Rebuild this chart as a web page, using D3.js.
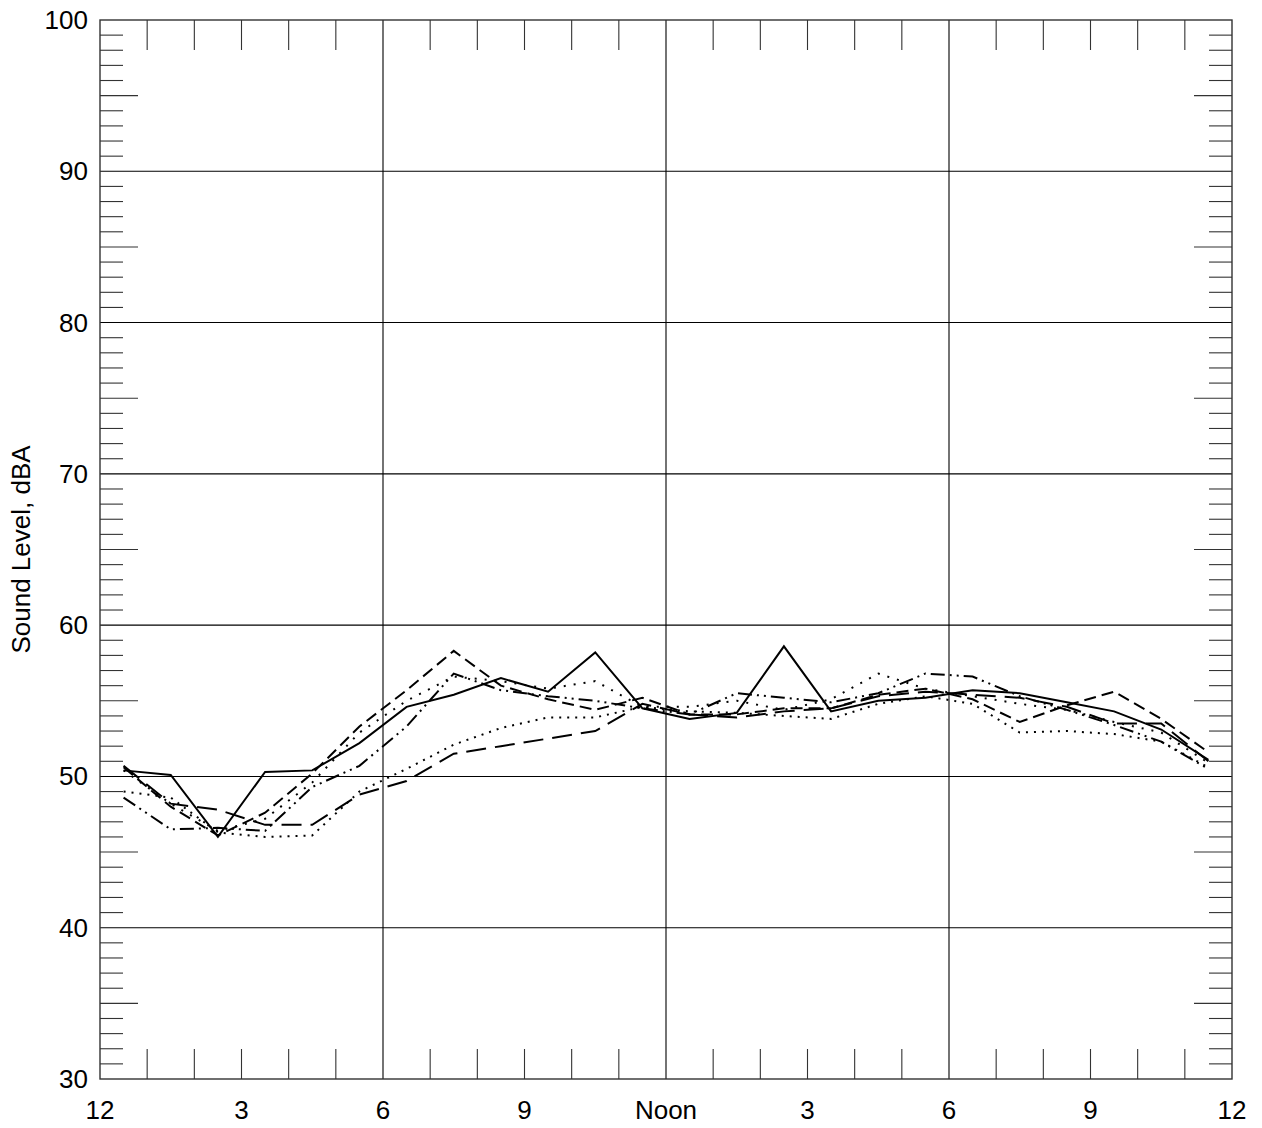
<!DOCTYPE html>
<html>
<head>
<meta charset="utf-8">
<script src="https://cdn.jsdelivr.net/npm/d3@7"></script>
<style>
  html, body { margin: 0; padding: 0; background: #fff; }
  text { font-family: "Liberation Sans", Arial, sans-serif; fill: #000; }
</style>
</head>
<body>
<svg id="chart" width="1262" height="1128"></svg>
<script>
// ---- data ----
const hours = [0.5,1.5,2.5,3.5,4.5,5.5,6.5,7.5,8.5,9.5,10.5,11.5,12.5,13.5,14.5,15.5,16.5,17.5,18.5,19.5,20.5,21.5,22.5,23.5];
const xTickValues = [0, 3, 6, 9, 12, 15, 18, 21, 24];
const xTickLabels = ["12", "3", "6", "9", "Noon", "3", "6", "9", "12"];
const yTickValues = [30, 40, 50, 60, 70, 80, 90, 100];

const solid      = [50.4,50.1,46.0,50.3,50.4,52.2,54.6,55.4,56.5,55.6,58.2,54.5,53.8,54.2,58.6,54.3,55.0,55.2,55.7,55.5,54.9,54.3,53.1,51.1];
const dashed     = [50.6,48.0,46.1,47.6,50.2,53.3,55.7,58.3,56.0,55.1,54.4,55.2,54.1,54.1,54.5,54.5,55.4,55.8,55.1,53.6,54.7,55.6,53.8,51.6];
const longDash   = [50.7,48.2,47.8,46.8,46.8,48.8,49.7,51.5,52.0,52.5,53.0,54.8,54.1,53.9,54.3,54.5,55.3,55.6,55.4,55.2,54.6,53.5,53.5,51.0];
const dottedHigh = [50.4,48.2,46.4,47.2,49.6,52.9,55.0,56.6,56.3,55.8,56.3,54.6,54.6,55.0,54.4,55.1,56.8,55.8,55.3,54.8,54.4,53.6,52.9,50.9];
const dottedLow  = [49.0,48.6,46.3,46.0,46.1,49.0,50.5,52.1,53.2,53.9,53.9,54.6,54.3,54.2,54.0,53.8,54.8,55.3,54.8,52.9,53.0,52.8,52.3,50.6];
const dashDotDot = [48.6,46.5,46.6,46.4,49.3,50.7,53.3,56.8,55.7,55.3,55.0,54.5,54.1,55.5,55.2,54.9,55.5,56.8,56.6,55.3,54.4,53.4,52.3,50.5];

const series = [
  { values: solid,      dash: null },
  { values: dashed,     dash: "12,6" },
  { values: longDash,   dash: "20,9" },
  { values: dottedHigh, dash: "2,8" },
  { values: dottedLow,  dash: "2,6" },
  { values: dashDotDot, dash: "14,5,2,5,2,5" }
];

// ---- layout ----
const mLeft = 100, mRight = 1232, mTop = 20, mBottom = 1079;
const svg = d3.select("#chart");
const x = d3.scaleLinear().domain([0, 24]).range([mLeft, mRight]);
const y = d3.scaleLinear().domain([30, 100]).range([mBottom, mTop]);

// grid lines
const g = svg.append("g");
g.selectAll(".hgrid").data(yTickValues.filter(v => v > 30 && v < 100)).join("line")
  .attr("x1", mLeft).attr("x2", mRight)
  .attr("y1", d => y(d)).attr("y2", d => y(d))
  .attr("stroke", "#000").attr("stroke-width", 1.1);
g.selectAll(".vgrid").data([6, 12, 18]).join("line")
  .attr("y1", mTop).attr("y2", mBottom)
  .attr("x1", d => x(d)).attr("x2", d => x(d))
  .attr("stroke", "#000").attr("stroke-width", 1.1);

// minor ticks on y (left and right)
const yMinor = d3.range(31, 100).filter(v => v % 10 !== 0);
const tickColor = "#333";
g.append("g").selectAll("line").data(yMinor).join("line")
  .attr("x1", mLeft).attr("x2", d => mLeft + (d % 5 === 0 ? 38 : 23))
  .attr("y1", d => y(d)).attr("y2", d => y(d))
  .attr("stroke", tickColor).attr("stroke-width", 1.1);
g.append("g").selectAll("line").data(yMinor).join("line")
  .attr("x1", mRight).attr("x2", d => mRight - (d % 5 === 0 ? 38 : 23))
  .attr("y1", d => y(d)).attr("y2", d => y(d))
  .attr("stroke", tickColor).attr("stroke-width", 1.1);

// hour ticks top and bottom
const xMinor = d3.range(1, 24).filter(h => h % 6 !== 0);
g.append("g").selectAll("line").data(xMinor).join("line")
  .attr("x1", d => x(d)).attr("x2", d => x(d))
  .attr("y1", mBottom).attr("y2", mBottom - 30)
  .attr("stroke", tickColor).attr("stroke-width", 1.1);
g.append("g").selectAll("line").data(xMinor).join("line")
  .attr("x1", d => x(d)).attr("x2", d => x(d))
  .attr("y1", mTop).attr("y2", mTop + 30)
  .attr("stroke", tickColor).attr("stroke-width", 1.1);

// frame
svg.append("rect").attr("x", mLeft).attr("y", mTop)
  .attr("width", mRight - mLeft).attr("height", mBottom - mTop)
  .attr("fill", "none").attr("stroke", "#333").attr("stroke-width", 1.4);

// axes labels
svg.append("g").selectAll("text").data(yTickValues).join("text")
  .attr("x", mLeft - 12).attr("y", d => y(d) + 9)
  .attr("text-anchor", "end").attr("font-size", 26)
  .text(d => d);
svg.append("g").selectAll("text").data(xTickValues).join("text")
  .attr("x", d => x(d)).attr("y", mBottom + 40)
  .attr("text-anchor", "middle").attr("font-size", 26)
  .text((d, i) => xTickLabels[i]);

svg.append("text")
  .attr("transform", `translate(30, ${(mTop + mBottom) / 2}) rotate(-90)`)
  .attr("text-anchor", "middle").attr("font-size", 26)
  .text("Sound Level, dBA");

// data lines
const line = d3.line().x((d, i) => x(hours[i])).y(d => y(d));
svg.append("g").selectAll("path").data(series).join("path")
  .attr("d", s => line(s.values))
  .attr("fill", "none").attr("stroke", "#000").attr("stroke-width", 2)
  .attr("stroke-dasharray", s => s.dash)
  .attr("stroke-linejoin", "miter");
</script>
</body>
</html>
